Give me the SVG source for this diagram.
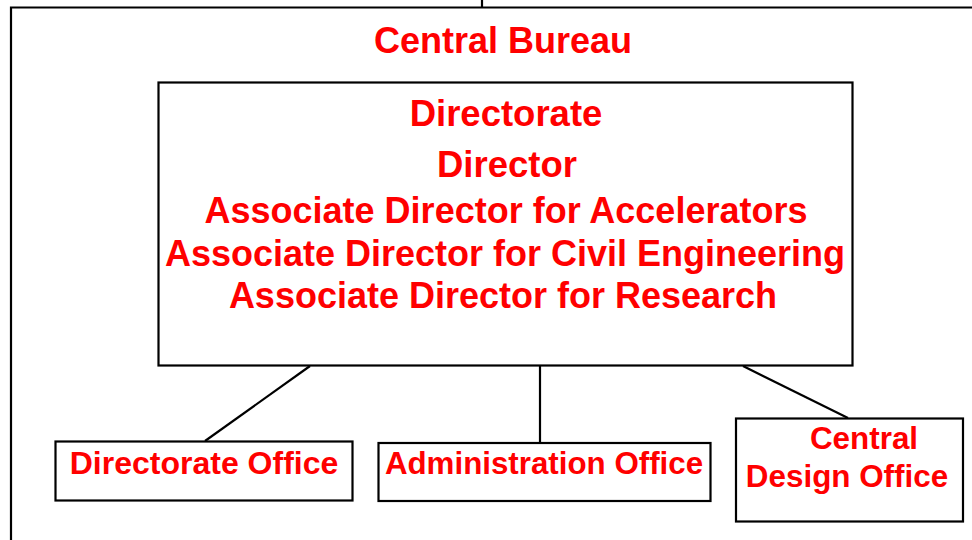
<svg xmlns="http://www.w3.org/2000/svg" width="972" height="540" viewBox="0 0 972 540">
<style>
.box{fill:#fff;stroke:#000;stroke-width:2.2}
.ln{fill:none;stroke:#000;stroke-width:2.2}
.t{font-family:"Liberation Sans",Arial,sans-serif;font-weight:bold;fill:#ff0000;text-anchor:middle}
</style>
<rect width="972" height="540" fill="#fff"/>
<g id="central-bureau">
<path class="ln" d="M11,545 V7.5 H980"/>
<line class="ln" x1="482" y1="0" x2="482" y2="7.5"/>
<text class="t" x="503" y="53" font-size="36">Central Bureau</text>
</g>
<g id="connectors">
<line class="ln" x1="310" y1="366" x2="205" y2="441"/>
<line class="ln" x1="540" y1="366" x2="540" y2="443"/>
<line class="ln" x1="743" y1="366" x2="848" y2="418"/>
</g>
<g id="directorate">
<rect class="box" x="158.5" y="82.5" width="694" height="283"/>
<text class="t" x="506" y="126" font-size="36.5">Directorate</text>
<text class="t" x="507" y="177" font-size="36.5">Director</text>
<text class="t" x="506" y="223" font-size="36">Associate Director for Accelerators</text>
<text class="t" x="505" y="266" font-size="36">Associate Director for Civil Engineering</text>
<text class="t" x="503" y="308" font-size="36">Associate Director for Research</text>
</g>
<g id="directorate-office">
<rect class="box" x="55.5" y="441.5" width="297" height="59"/>
<text class="t" x="204" y="474" font-size="32">Directorate Office</text>
</g>
<g id="administration-office">
<rect class="box" x="378.5" y="443" width="332" height="58"/>
<text class="t" x="544" y="474" font-size="31.3">Administration Office</text>
</g>
<g id="central-design-office">
<rect class="box" x="736" y="418.5" width="227" height="103"/>
<text class="t" x="864" y="449" font-size="31.4">Central</text>
<text class="t" x="847" y="487" font-size="31.4">Design Office</text>
</g>
</svg>
